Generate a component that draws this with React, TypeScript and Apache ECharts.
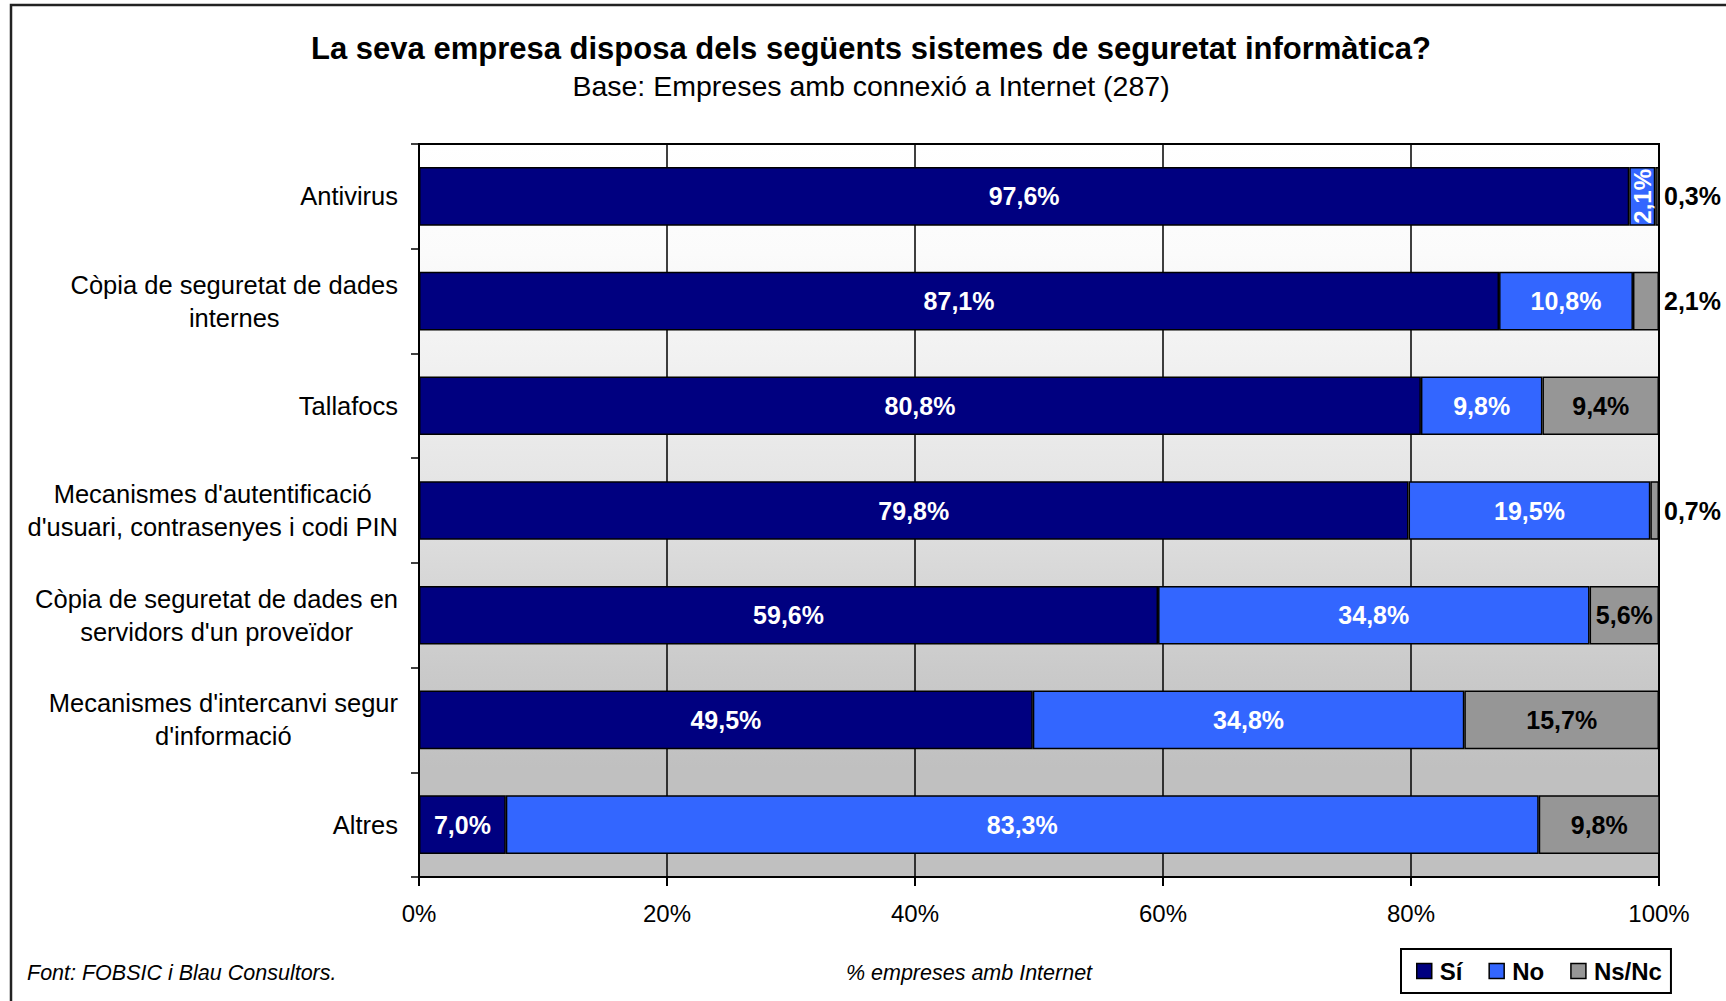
import React, { useEffect, useRef } from "react";
import * as echarts from "echarts";

const categories = [
  "Antivirus",
  "Còpia de seguretat de dades\ninternes",
  "Tallafocs",
  "Mecanismes d'autentificació\nd'usuari, contrasenyes i codi PIN",
  "Còpia de seguretat de dades en\nservidors d'un proveïdor",
  "Mecanismes d'intercanvi segur\nd'informació",
  "Altres",
];
const seriesNames = ["Sí", "No", "Ns/Nc"];
const siValues = [97.6, 87.1, 80.8, 79.8, 59.6, 49.5, 7.0];
const noValues = [2.1, 10.8, 9.8, 19.5, 34.8, 34.8, 83.3];
const nsncValues = [0.3, 2.1, 9.4, 0.7, 5.6, 15.7, 9.8];

const titleText = "La seva empresa disposa dels següents sistemes de seguretat informàtica?";
const subtitleText = "Base: Empreses amb connexió a Internet (287)";
const sourceText = "Font: FOBSIC i Blau Consultors.";
const axisTitleText = "% empreses amb Internet";

const FONT = "'Liberation Sans', Arial, Helvetica, sans-serif";
const fmt = (v: number) => v.toFixed(1).replace(".", ",") + "%";

export default function App() {
  const ref = useRef<HTMLDivElement>(null);
  useEffect(() => {
    if (!ref.current) return;
    const chart = echarts.init(ref.current, null, { renderer: "svg" });

    const labelBase = {
      show: true,
      fontFamily: FONT,
      fontWeight: "bold" as const,
      fontSize: 25,
      formatter: (p: any) => fmt(p.value),
    };

    const siData = siValues.map((v) => ({ value: v }));
    const noData = noValues.map((v, i) =>
      i === 0
        ? { value: v, label: { rotate: 90, position: "inside", fontSize: 24, align: "center", verticalAlign: "middle" } }
        : { value: v }
    );
    const nsData = nsncValues.map((v) =>
      v < 3
        ? { value: v, label: { position: "right", distance: 5, color: "#000" } }
        : { value: v }
    );

    const barCommon = {
      type: "bar" as const,
      stack: "total",
      barWidth: "56%",
      itemStyle: { borderColor: "#000", borderWidth: 1.5 },
    };

    chart.setOption({
      animation: false,
      backgroundColor: "#ffffff",
      textStyle: { fontFamily: FONT },
      grid: {
        left: 419,
        right: 67,
        top: 144,
        bottom: 124,
        show: true,
        borderColor: "#000",
        borderWidth: 2,
        backgroundColor: new echarts.graphic.LinearGradient(0, 0, 0, 1, [
          { offset: 0, color: "#ffffff" },
          { offset: 0.15, color: "#fbfbfb" },
          { offset: 0.45, color: "#e6e6e6" },
          { offset: 0.72, color: "#cacaca" },
          { offset: 0.85, color: "#c0c0c0" },
          { offset: 1, color: "#c0c0c0" },
        ]),
      },
      legend: {
        left: 1401,
        top: 949,
        orient: "horizontal",
        padding: [10, 9, 10, 15],
        borderColor: "#000",
        borderWidth: 2,
        backgroundColor: "#fff",
        itemWidth: 15,
        itemHeight: 15,
        itemGap: 26,
        icon: "rect",
        itemStyle: { borderColor: "#000", borderWidth: 1.5 },
        textStyle: { fontFamily: FONT, fontWeight: "bold", fontSize: 24, color: "#000", padding: [0, 0, 0, 3] },
        data: seriesNames,
      },
      xAxis: {
        type: "value",
        min: 0,
        max: 100,
        interval: 20,
        axisLine: { show: true, lineStyle: { color: "#000", width: 2 } },
        axisTick: { show: true, length: 9, lineStyle: { color: "#000", width: 2 } },
        splitLine: { show: true, lineStyle: { color: "#000", width: 1.5 } },
        axisLabel: {
          formatter: "{value}%",
          fontFamily: FONT,
          fontSize: 24,
          color: "#000",
          margin: 24,
        },
      },
      yAxis: {
        type: "category",
        inverse: true,
        data: categories,
        axisLine: { show: true, lineStyle: { color: "#000", width: 2 } },
        axisTick: { show: true, length: 8, lineStyle: { color: "#000", width: 1.5 } },
        axisLabel: {
          margin: 21,
          color: "#000",
          fontFamily: FONT,
          fontSize: 25,
          formatter: (v: string) => v.split("\n").map((l) => `{c|${l}}`).join("\n"),
          rich: {
            c: { align: "center", fontFamily: FONT, fontSize: 25.5, lineHeight: 33, color: "#000" },
          },
        },
      },
      series: [
        {
          ...barCommon,
          name: seriesNames[0],
          itemStyle: { ...barCommon.itemStyle, color: "#000080" },
          label: { ...labelBase, position: "inside", color: "#fff" },
          data: siData,
        },
        {
          ...barCommon,
          name: seriesNames[1],
          itemStyle: { ...barCommon.itemStyle, color: "#3366ff" },
          label: { ...labelBase, position: "inside", color: "#fff" },
          data: noData,
        },
        {
          ...barCommon,
          name: seriesNames[2],
          itemStyle: { ...barCommon.itemStyle, color: "#969696" },
          label: { ...labelBase, position: "inside", color: "#000" },
          data: nsData,
        },
      ],
      graphic: [
        {
          type: "polyline",
          silent: true,
          shape: { points: [[11, 1001], [11, 5], [1726, 5]] },
          style: { stroke: "#222", lineWidth: 2.5, fill: null },
        },
        {
          type: "text",
          x: 871,
          y: 48,
          style: {
            text: titleText,
            fontFamily: FONT,
            fontWeight: "bold",
            fontSize: 31,
            fill: "#000",
            textAlign: "center",
            textVerticalAlign: "middle",
          },
        },
        {
          type: "text",
          x: 871,
          y: 86,
          style: {
            text: subtitleText,
            fontFamily: FONT,
            fontSize: 28.5,
            fill: "#000",
            textAlign: "center",
            textVerticalAlign: "middle",
          },
        },
        {
          type: "text",
          x: 27,
          y: 973,
          style: {
            text: sourceText,
            fontFamily: FONT,
            fontStyle: "italic",
            fontSize: 21.5,
            fill: "#000",
            textAlign: "left",
            textVerticalAlign: "middle",
          },
        },
        {
          type: "text",
          x: 969,
          y: 973,
          style: {
            text: axisTitleText,
            fontFamily: FONT,
            fontStyle: "italic",
            fontSize: 21.5,
            fill: "#000",
            textAlign: "center",
            textVerticalAlign: "middle",
          },
        },
      ],
    });

    return () => chart.dispose();
  }, []);

  return (
    <div
      ref={ref}
      style={{ position: "fixed", left: 0, top: 0, width: 1726, height: 1001, background: "#fff" }}
    />
  );
}
